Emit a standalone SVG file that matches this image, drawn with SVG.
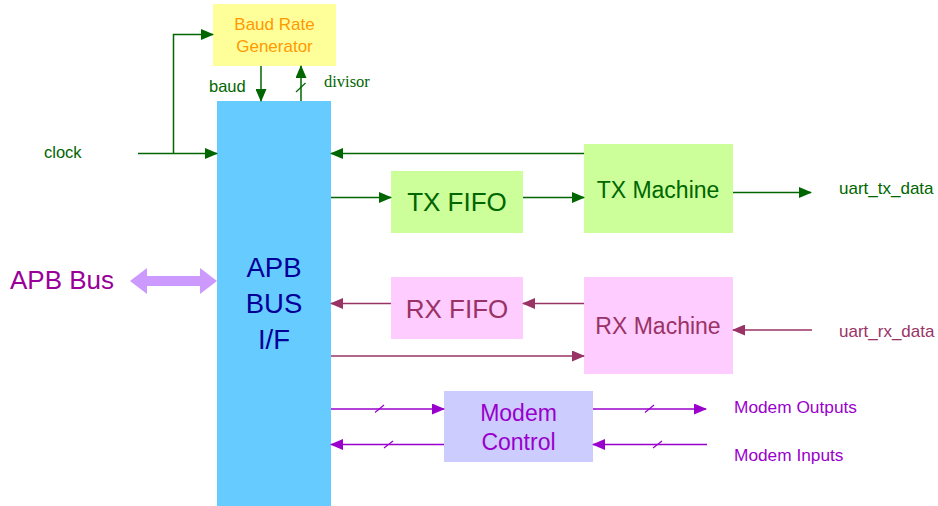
<svg xmlns="http://www.w3.org/2000/svg" width="938" height="506" viewBox="0 0 938 506">
<style>
.t{font-family:"Liberation Sans",Arial,sans-serif}
.g{stroke:#006600;stroke-width:1.5;fill:none}
.r{stroke:#993366;stroke-width:1.5;fill:none}
.m{stroke:#9900CC;stroke-width:1.5;fill:none}
.sl{stroke-width:1.2}
</style>
<defs>
<marker id="ag" markerUnits="userSpaceOnUse" markerWidth="13" markerHeight="11" refX="12" refY="5.5" orient="auto"><path d="M0,0 L13,5.5 L0,11 z" fill="#006600"/></marker>
<marker id="ar" markerUnits="userSpaceOnUse" markerWidth="13" markerHeight="11" refX="12" refY="5.5" orient="auto"><path d="M0,0 L13,5.5 L0,11 z" fill="#993366"/></marker>
<marker id="am" markerUnits="userSpaceOnUse" markerWidth="13" markerHeight="11" refX="12" refY="5.5" orient="auto"><path d="M0,0 L13,5.5 L0,11 z" fill="#9900CC"/></marker>
</defs>
<rect width="938" height="506" fill="#fff"/>

<g id="apb">
<rect x="217" y="101" width="114" height="405" fill="#66CCFF"/>
<text class="t" x="274" y="277" font-size="27.5" fill="#000099" text-anchor="middle">APB</text>
<text class="t" x="274" y="313" font-size="27.5" fill="#000099" text-anchor="middle">BUS</text>
<text class="t" x="274" y="349" font-size="27.5" fill="#000099" text-anchor="middle">I/F</text>
</g>
<g id="baud-gen">
<rect x="213" y="4" width="123" height="62" fill="#FFFF99"/>
<text class="t" x="274.5" y="30" font-size="17" fill="#FF9900" text-anchor="middle">Baud Rate</text>
<text class="t" x="274.5" y="52" font-size="17" fill="#FF9900" text-anchor="middle">Generator</text>
</g>
<g id="tx-fifo">
<rect x="391" y="171" width="132" height="62" fill="#CCFF99"/>
<text class="t" x="457" y="211" font-size="26" fill="#006600" text-anchor="middle">TX FIFO</text>
</g>
<g id="tx-machine">
<rect x="584" y="144" width="149" height="89" fill="#CCFF99"/>
<text class="t" x="658" y="198" font-size="23" fill="#006600" text-anchor="middle">TX Machine</text>
</g>
<g id="rx-fifo">
<rect x="391" y="277" width="132" height="62" fill="#FFCCFF"/>
<text class="t" x="457" y="318" font-size="26" fill="#993366" text-anchor="middle">RX FIFO</text>
</g>
<g id="rx-machine">
<rect x="584" y="277" width="149" height="97" fill="#FFCCFF"/>
<text class="t" x="658" y="334" font-size="23" fill="#993366" text-anchor="middle">RX Machine</text>
</g>
<g id="modem">
<rect x="444" y="391" width="149" height="71" fill="#CCCCFF"/>
<text class="t" x="518.5" y="421" font-size="23" fill="#9900CC" text-anchor="middle">Modem</text>
<text class="t" x="518.5" y="450" font-size="23" fill="#9900CC" text-anchor="middle">Control</text>
</g>

<g id="labels">
<text class="t" x="44" y="158" font-size="16.5" fill="#006600">clock</text>
<text class="t" x="209" y="92" font-size="16.5" fill="#006600">baud</text>
<text x="324" y="87" font-size="16.5" fill="#006600" font-family="'Liberation Serif','Times New Roman',serif">divisor</text>
<text class="t" x="839" y="194" font-size="17" fill="#006600">uart_tx_data</text>
<text class="t" x="839" y="337" font-size="17" fill="#993366">uart_rx_data</text>
<text class="t" x="734" y="413" font-size="17.3" fill="#9900CC">Modem Outputs</text>
<text class="t" x="734" y="461" font-size="17.3" fill="#9900CC">Modem Inputs</text>
<text class="t" x="10" y="289" font-size="26" fill="#990099">APB Bus</text>
</g>

<g id="connectors">
<path class="g" d="M138,153.5 H217" marker-end="url(#ag)"/>
<path class="g" d="M173.5,153.5 V34.5 H213" marker-end="url(#ag)"/>
<path class="g" d="M261,66 V101" marker-end="url(#ag)"/>
<path class="g" d="M301,101 V66" marker-end="url(#ag)"/>
<path class="g sl" d="M296,92 L305.5,83"/>
<path class="g" d="M584,153.5 H331" marker-end="url(#ag)"/>
<path class="g" d="M331,197.5 H391" marker-end="url(#ag)"/>
<path class="g" d="M523,197.5 H584" marker-end="url(#ag)"/>
<path class="g" d="M733,192.5 H811" marker-end="url(#ag)"/>
<path class="r" d="M391,303.5 H331" marker-end="url(#ar)"/>
<path class="r" d="M584,303.5 H523" marker-end="url(#ar)"/>
<path class="r" d="M331,356 H584" marker-end="url(#ar)"/>
<path class="r" d="M812,330 H733" marker-end="url(#ar)"/>
<path class="m" d="M331,409 H444" marker-end="url(#am)"/>
<path class="m sl" d="M375,412.5 L384,405"/>
<path class="m" d="M444,444.5 H331" marker-end="url(#am)"/>
<path class="m sl" d="M384,448 L393,441"/>
<path class="m" d="M593,409 H706" marker-end="url(#am)"/>
<path class="m sl" d="M645,412.5 L654,405"/>
<path class="m" d="M707,444.5 H593" marker-end="url(#am)"/>
<path class="m sl" d="M653,448 L662,441"/>
<path d="M130,281 L147,268 V276 H200 V268 L217,281 L200,294 V286 H147 V294 Z" fill="#CC99FF"/>
</g>
</svg>
